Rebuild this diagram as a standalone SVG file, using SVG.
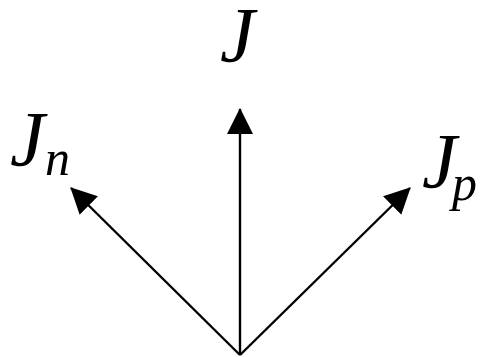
<svg xmlns="http://www.w3.org/2000/svg" width="481" height="357" viewBox="0 0 481 357">
<style>
.lbl{font-family:"Liberation Serif","Times New Roman",serif;font-style:italic;fill:#000;font-size:78px}
.sub{font-size:50px}
.ln{stroke:#000;stroke-width:2.4;fill:none}
</style>
<defs>
<marker id="ah" markerUnits="userSpaceOnUse" markerWidth="26" markerHeight="26" viewBox="0 0 26 26" refX="25" refY="13" orient="auto">
<path d="M0,0 L26,13 L0,26 Z" fill="#000"/>
</marker>
</defs>
<rect width="481" height="357" fill="#fff"/>
<g id="connectors">
<line class="ln" x1="240" y1="355" x2="240" y2="109" marker-end="url(#ah)"/>
<line class="ln" x1="240" y1="355" x2="71" y2="188" marker-end="url(#ah)"/>
<line class="ln" x1="240" y1="355" x2="410" y2="188" marker-end="url(#ah)"/>
</g>
<g id="J"><text class="lbl" x="220" y="61">J</text></g>
<g id="Jn"><text class="lbl" x="10" y="165">J<tspan class="sub" x="45" y="175">n</tspan></text></g>
<g id="Jp"><text class="lbl" x="422" y="187">J<tspan class="sub" x="452" y="200">p</tspan></text></g>
</svg>
